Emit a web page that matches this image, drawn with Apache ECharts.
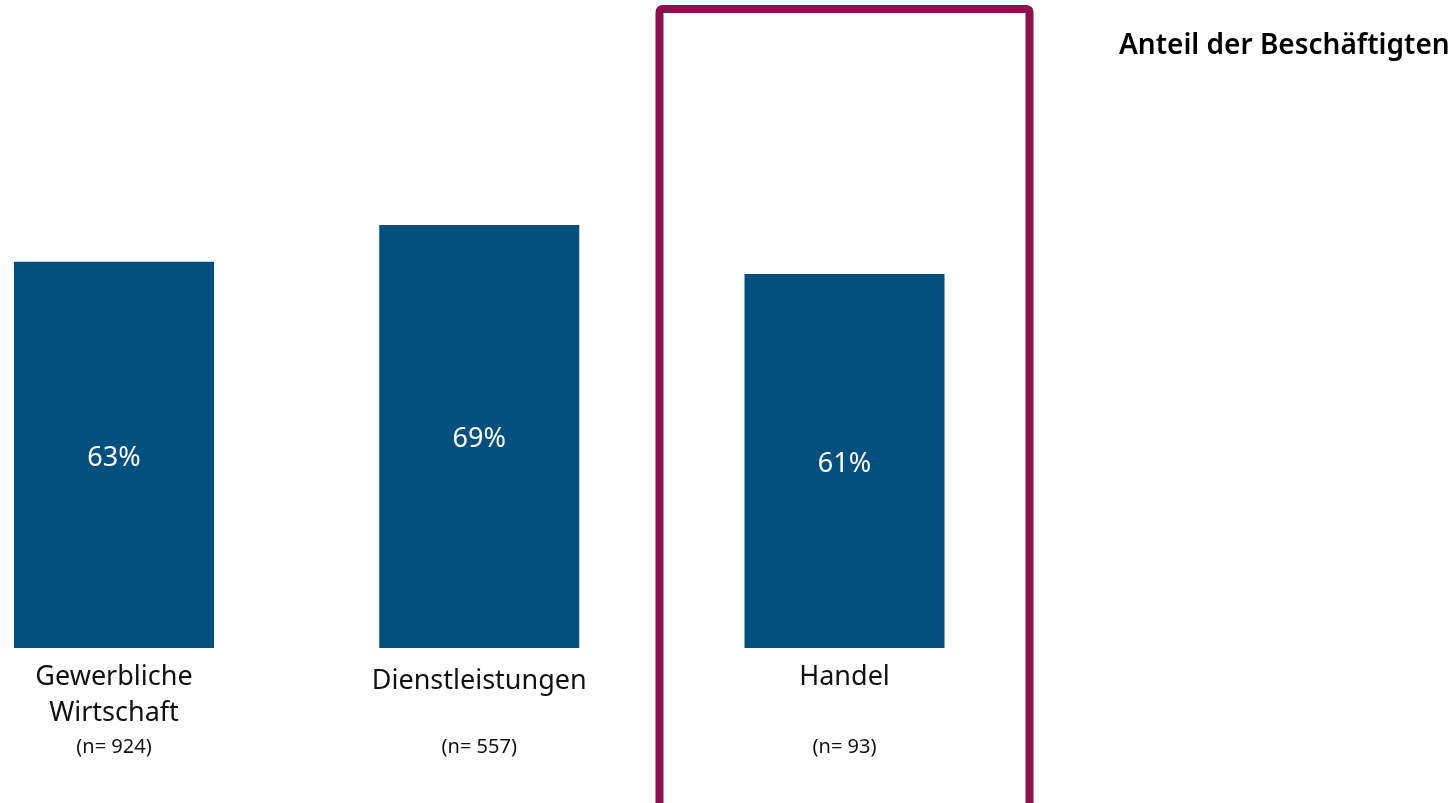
<!DOCTYPE html>
<html>
<head>
<meta charset="utf-8">
<script src="https://cdn.jsdelivr.net/npm/echarts@6/dist/echarts.min.js"></script>
<style>
html,body{margin:0;padding:0;background:#fff;}
#c{width:1452px;height:803px;}
</style>
</head>
<body>
<div id="c"></div>
<script>
const categories = ['Gewerbliche\nWirtschaft', 'Dienstleistungen', 'Handel'];
const values = [63, 69, 61];
const sampleSizes = ['(n= 924)', '(n= 557)', '(n= 93)'];
const highlighted = 'Handel';
const titleText = 'Anteil der Beschäftigten';

const FONT = '"Noto Sans", "Open Sans", sans-serif';
const chart = echarts.init(document.getElementById('c'), null, {renderer: 'canvas'});

const option = {
  animation: false,
  backgroundColor: '#ffffff',
  title: {
    text: titleText,
    left: 1114,
    top: 27,
    textStyle: {fontFamily: FONT, fontSize: 28, fontWeight: 600, color: '#000'}
  },
  grid: {left: 114, width: 730.5, top: 35, bottom: 155},
  xAxis: [
    {
      type: 'category',
      boundaryGap: false,
      data: categories,
      axisLine: {show: false},
      axisTick: {show: false},
      axisLabel: {
        interval: 0,
        margin: 11,
        fontFamily: FONT,
        fontSize: 27,
        lineHeight: 36,
        color: '#111',
        verticalAlign: 'top',
        formatter: function (v) {
          if (v.indexOf('\n') < 0 && v.length > 10) return '{p|' + v + '}';
          return v;
        },
        rich: {
          p: {fontFamily: FONT, fontSize: 27, lineHeight: 36, padding: [8, 0, 0, 0], color: '#111'}
        }
      }
    },
    {
      type: 'category',
      boundaryGap: false,
      position: 'bottom',
      data: sampleSizes,
      axisLine: {show: false},
      axisTick: {show: false},
      axisLabel: {
        interval: 0,
        margin: 88,
        fontFamily: FONT,
        fontSize: 20,
        lineHeight: 22,
        verticalAlign: 'top',
        color: '#111'
      }
    }
  ],
  yAxis: {type: 'value', min: 0, max: 100, show: false, splitLine: {show: false}},
  series: [{
    type: 'bar',
    data: values,
    barWidth: 200,
    itemStyle: {color: '#03507F'},
    label: {
      show: true,
      position: 'inside',
      offset: [0, 3],
      formatter: '{c}%',
      fontFamily: FONT,
      fontSize: 27,
      color: '#ffffff'
    }
  }]
};
chart.setOption(option);

const cx = chart.convertToPixel({xAxisIndex: 0}, highlighted);
chart.setOption({
  graphic: [{
    type: 'rect',
    shape: {x: cx - 185, y: 9, width: 370, height: 800, r: 3},
    style: {fill: 'none', stroke: '#8C1150', lineWidth: 8}
  }]
});
</script>
</body>
</html>
